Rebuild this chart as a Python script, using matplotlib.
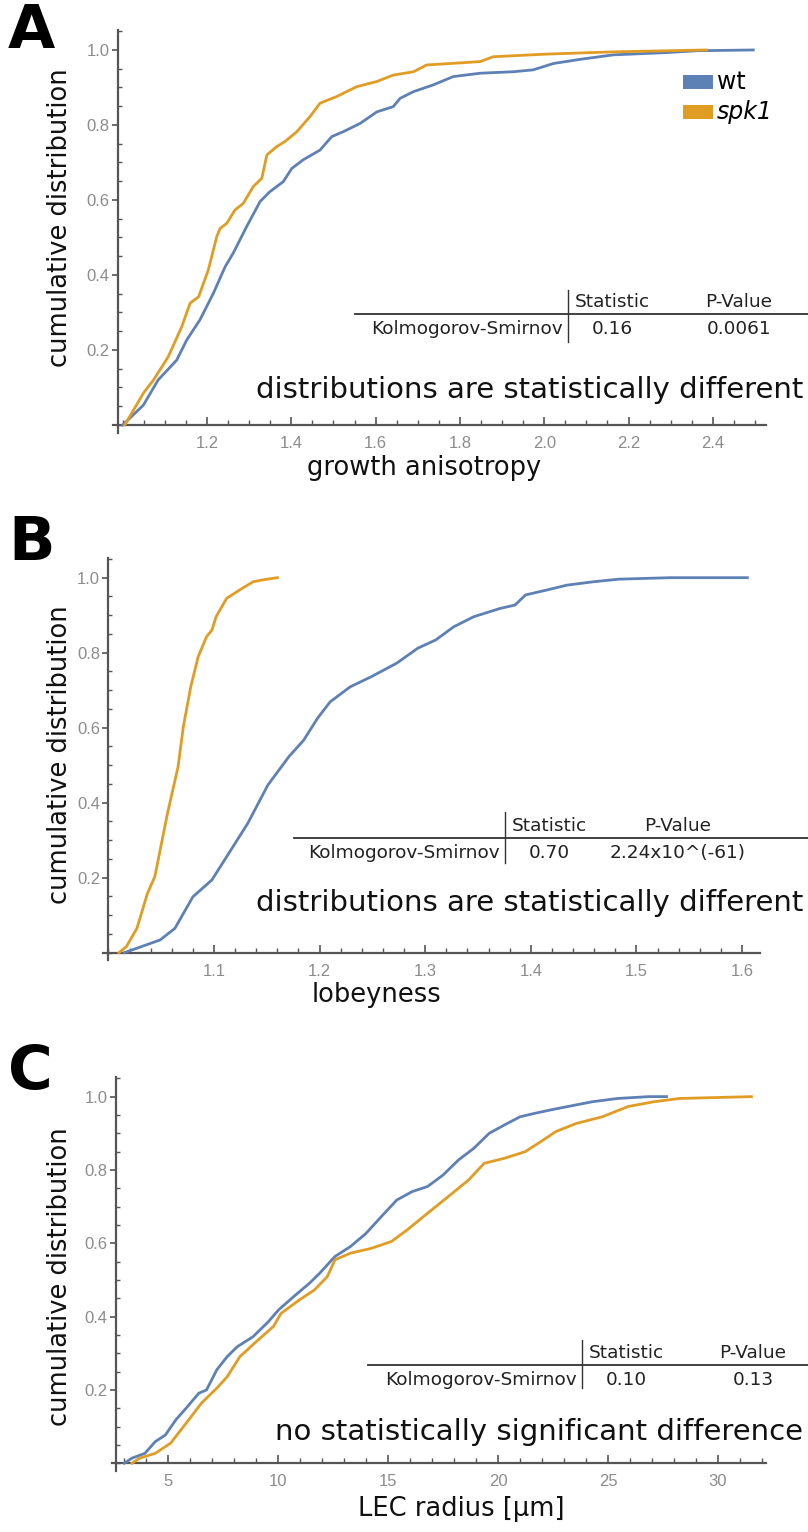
import matplotlib
matplotlib.use("Agg")
import matplotlib.pyplot as plt
from matplotlib.transforms import Affine2D
from matplotlib.lines import Line2D
from matplotlib.patches import Rectangle
from matplotlib.ticker import MultipleLocator

W, H = 808, 1532
BLUE = "#5e81b5"
ORANGE = "#e19c24"
AXIS_COLOR = "#555555"
TICK_LABEL_COLOR = "#8c8c8c"

# A: growth anisotropy
aniso_wt_x = [1.00, 1.049, 1.084, 1.128, 1.152, 1.183, 1.215, 1.243, 1.262, 1.294, 1.326, 1.349,
              1.381, 1.401, 1.428, 1.468, 1.496, 1.523, 1.563, 1.603, 1.642, 1.658, 1.69, 1.737,
              1.784, 1.848, 1.927, 1.974, 2.022, 2.085, 2.164, 2.29, 2.362, 2.496]
aniso_wt_y = [0.0, 0.053, 0.12, 0.173, 0.227, 0.28, 0.351, 0.422, 0.458, 0.529, 0.596, 0.622,
              0.649, 0.684, 0.707, 0.733, 0.769, 0.782, 0.804, 0.835, 0.849, 0.871, 0.889, 0.907,
              0.929, 0.938, 0.942, 0.947, 0.964, 0.975, 0.987, 0.993, 0.998, 1.0]
aniso_spk1_x = [1.005, 1.049, 1.073, 1.108, 1.14, 1.16, 1.18, 1.203, 1.223, 1.231, 1.247, 1.266,
                1.286, 1.31, 1.33, 1.342, 1.365, 1.385, 1.413, 1.444, 1.468, 1.508, 1.555, 1.603,
                1.642, 1.69, 1.721, 1.848, 1.879, 2.006, 2.164, 2.385]
aniso_spk1_y = [0.0, 0.085, 0.12, 0.182, 0.262, 0.325, 0.342, 0.413, 0.502, 0.524, 0.538, 0.573,
                0.591, 0.636, 0.658, 0.72, 0.742, 0.756, 0.782, 0.822, 0.858, 0.876, 0.902, 0.916,
                0.933, 0.942, 0.96, 0.969, 0.982, 0.989, 0.995, 1.0]

# B: lobeyness
lobe_wt_x = [1.015, 1.024, 1.049, 1.063, 1.08, 1.098, 1.112, 1.132, 1.151, 1.171, 1.185, 1.198,
             1.21, 1.229, 1.249, 1.273, 1.293, 1.31, 1.327, 1.346, 1.371, 1.385, 1.395, 1.415,
             1.434, 1.459, 1.483, 1.532, 1.605]
lobe_wt_y = [0.0, 0.009, 0.034, 0.065, 0.149, 0.194, 0.256, 0.345, 0.447, 0.523, 0.567, 0.625,
             0.669, 0.709, 0.736, 0.772, 0.812, 0.834, 0.869, 0.896, 0.918, 0.927, 0.954, 0.967,
             0.98, 0.989, 0.996, 1.0, 1.0]
lobe_spk1_x = [1.01, 1.017, 1.027, 1.037, 1.044, 1.056, 1.066, 1.071, 1.078, 1.085, 1.093, 1.098,
               1.102, 1.112, 1.127, 1.137, 1.146, 1.16]
lobe_spk1_y = [0.0, 0.016, 0.065, 0.158, 0.203, 0.372, 0.496, 0.603, 0.709, 0.789, 0.843, 0.86,
               0.896, 0.945, 0.972, 0.989, 0.994, 1.0]

# C: LEC radius
lec_wt_x = [3.01, 3.36, 3.95, 4.42, 4.88, 5.35, 5.82, 6.40, 6.75, 7.22, 7.69, 8.15, 8.86, 9.56,
            10.02, 10.72, 11.43, 11.89, 12.59, 13.29, 14.0, 14.7, 15.4, 16.1, 16.8, 17.5, 18.2,
            18.9, 19.6, 20.3, 21.0, 21.71, 22.41, 23.34, 24.28, 25.44, 26.85, 27.66]
lec_wt_y = [0.0, 0.014, 0.027, 0.059, 0.077, 0.118, 0.15, 0.191, 0.2, 0.255, 0.291, 0.318, 0.345,
            0.386, 0.418, 0.455, 0.491, 0.518, 0.564, 0.591, 0.627, 0.673, 0.718, 0.741, 0.755,
            0.786, 0.827, 0.859, 0.9, 0.923, 0.945, 0.955, 0.964, 0.975, 0.986, 0.995, 1.0, 1.0]
lec_spk1_x = [3.36, 3.71, 4.42, 5.12, 5.82, 6.52, 7.22, 7.69, 8.27, 9.09, 9.79, 10.14, 10.96,
              11.66, 12.24, 12.59, 13.29, 14.23, 15.16, 15.86, 16.8, 17.73, 18.67, 19.37, 20.3,
              21.24, 21.94, 22.64, 23.57, 24.74, 25.91, 27.08, 28.25, 31.52]
lec_spk1_y = [0.0, 0.014, 0.027, 0.055, 0.109, 0.164, 0.205, 0.236, 0.291, 0.336, 0.373, 0.409,
              0.445, 0.473, 0.509, 0.555, 0.573, 0.586, 0.605, 0.636, 0.682, 0.727, 0.773, 0.818,
              0.832, 0.85, 0.877, 0.905, 0.927, 0.945, 0.973, 0.986, 0.995, 1.0]

ks_stats = ["0.16", "0.70", "0.10"]
ks_pvalues = ["0.0061", "2.24x10^(-61)", "0.13"]
verdicts = ["distributions are statistically different",
            "distributions are statistically different",
            "no statistically significant difference"]
xlabels = ["growth anisotropy", "lobeyness", "LEC radius [\u03bcm]"]
panel_letters = ["A", "B", "C"]

fig = plt.figure(figsize=(W / 100.0, H / 100.0), dpi=100)
fig.patch.set_facecolor("white")
# pixel coordinates measured from the top-left corner of the image
px = Affine2D().scale(1.0 / W, -1.0 / H).translate(0, 1) + fig.transFigure


def add_panel(left, right, top, bottom, xlim, yaxis_x, xticks, xminor):
    ax = fig.add_axes([left / W, 1 - bottom / H, (right - left) / W, (bottom - top) / H])
    ax.set_xlim(*xlim)
    ax.set_ylim(-0.02, 1.053)
    for s in ["top", "right"]:
        ax.spines[s].set_visible(False)
    ax.spines["bottom"].set_position(("data", 0))
    ax.spines["left"].set_position(("data", yaxis_x))
    for s in ["bottom", "left"]:
        ax.spines[s].set_color(AXIS_COLOR)
        ax.spines[s].set_linewidth(1.6)
    ax.set_xticks(xticks)
    ax.xaxis.set_minor_locator(MultipleLocator(xminor))
    ax.set_yticks([0.2, 0.4, 0.6, 0.8, 1.0])
    ax.yaxis.set_minor_locator(MultipleLocator(0.05))
    ax.tick_params(axis="x", which="major", direction="in", length=6, width=1.2,
                   color=AXIS_COLOR, labelcolor=TICK_LABEL_COLOR, labelsize=12, pad=8)
    ax.tick_params(axis="x", which="minor", direction="in", length=3.5, width=1.0, color=AXIS_COLOR)
    ax.tick_params(axis="y", which="major", direction="out", length=4, width=1.2,
                   color=AXIS_COLOR, labelcolor=TICK_LABEL_COLOR, labelsize=12, pad=2)
    ax.tick_params(axis="y", which="minor", direction="in", length=3, width=1.0, color=AXIS_COLOR)
    for lab in ax.get_xticklabels() + ax.get_yticklabels():
        lab.set_family(["Liberation Sans", "DejaVu Sans"])
    ax.patch.set_visible(False)
    return ax


def draw_table(vline_x, top, hline_y, hline_x0, bottom, stat_x, pval_x, stat, pval):
    fig.add_artist(Line2D([vline_x, vline_x], [top, bottom], transform=px, color="#333333", lw=1.0))
    fig.add_artist(Line2D([hline_x0, W], [hline_y, hline_y], transform=px, color="#333333", lw=1.3))
    kw = dict(transform=px, fontsize=13.3, color="#222222", family="DejaVu Sans", va="center")
    head_y = hline_y - 12
    row_y = hline_y + 15
    fig.text(stat_x, head_y, "Statistic", ha="center", **kw)
    fig.text(pval_x, head_y, "P-Value", ha="center", **kw)
    fig.text(vline_x - 5, row_y, "Kolmogorov-Smirnov", ha="right", **kw)
    fig.text(stat_x, row_y, stat, ha="center", **kw)
    fig.text(pval_x, row_y, pval, ha="center", **kw)


panels = [
    dict(box=(112.6, 765.5, 30.1, 432.5), xlim=(0.976, 2.525), yaxis_x=0.988,
         xticks=[1.2, 1.4, 1.6, 1.8, 2.0, 2.2, 2.4], xminor=0.05, xtl=None,
         wt=(aniso_wt_x, aniso_wt_y), spk1=(aniso_spk1_x, aniso_spk1_y),
         letter_y=31, ylab_y=218, xlab=(424, 475),
         table=(568, 290, 314, 355, 342, 612, 739), verdict_y=390),
    dict(box=(103.1, 760.0, 557.8, 960.2), xlim=(0.995, 1.617), yaxis_x=1.0,
         xticks=[1.1, 1.2, 1.3, 1.4, 1.5, 1.6], xminor=0.02, xtl=None,
         wt=(lobe_wt_x, lobe_wt_y), spk1=(lobe_spk1_x, lobe_spk1_y),
         letter_y=543, ylab_y=755, xlab=(377, 1002),
         table=(505, 812, 838, 294, 863, 549, 678), verdict_y=903),
    dict(box=(111.9, 766.4, 1077.2, 1470.6), xlim=(2.45, 32.2), yaxis_x=2.64,
         xticks=[5, 10, 15, 20, 25, 30], xminor=1, xtl=["5", "10", "15", "20", "25", "30"],
         wt=(lec_wt_x, lec_wt_y), spk1=(lec_spk1_x, lec_spk1_y),
         letter_y=1073, ylab_y=1277, xlab=(461, 1516),
         table=(582, 1340, 1365, 368, 1388, 626, 753), verdict_y=1432),
]

for i, p in enumerate(panels):
    left, right, top, bottom = p["box"]
    ax = add_panel(left, right, top, bottom, p["xlim"], p["yaxis_x"], p["xticks"], p["xminor"])
    if p["xtl"] is not None:
        ax.set_xticklabels(p["xtl"], family=["Liberation Sans", "DejaVu Sans"])
    ax.plot(*p["wt"], color=BLUE, lw=2.0, zorder=3, solid_joinstyle="round")
    ax.plot(*p["spk1"], color=ORANGE, lw=2.0, zorder=3, solid_joinstyle="round")

    fig.text(8, p["letter_y"], panel_letters[i], transform=px, fontsize=44, fontweight="bold",
             family="DejaVu Sans", ha="left", va="center", color="black")
    fig.text(60, p["ylab_y"], "cumulative distribution", transform=px, rotation=90,
             fontsize=18.5, family="DejaVu Sans", ha="center", va="center", color="#111111")
    fig.text(p["xlab"][0], p["xlab"][1], xlabels[i], transform=px, fontsize=18.5,
             family="DejaVu Sans", ha="center", va="baseline", color="#111111")
    draw_table(*p["table"], ks_stats[i], ks_pvalues[i])
    fig.text(803, p["verdict_y"], verdicts[i], transform=px, fontsize=21,
             family="DejaVu Sans", ha="right", va="center", color="#111111")

# legend of panel A
fig.add_artist(Rectangle((683, 75), 30, 14, transform=px, color=BLUE, lw=0))
fig.add_artist(Rectangle((683, 105), 30, 14, transform=px, color=ORANGE, lw=0))
fig.text(717, 82, "wt", transform=px, fontsize=17, family="DejaVu Sans", ha="left", va="center")
fig.text(717, 112, "spk1", transform=px, fontsize=17, family="DejaVu Sans", style="italic",
         ha="left", va="center")

fig.savefig("out.png", dpi=100, facecolor="white")
